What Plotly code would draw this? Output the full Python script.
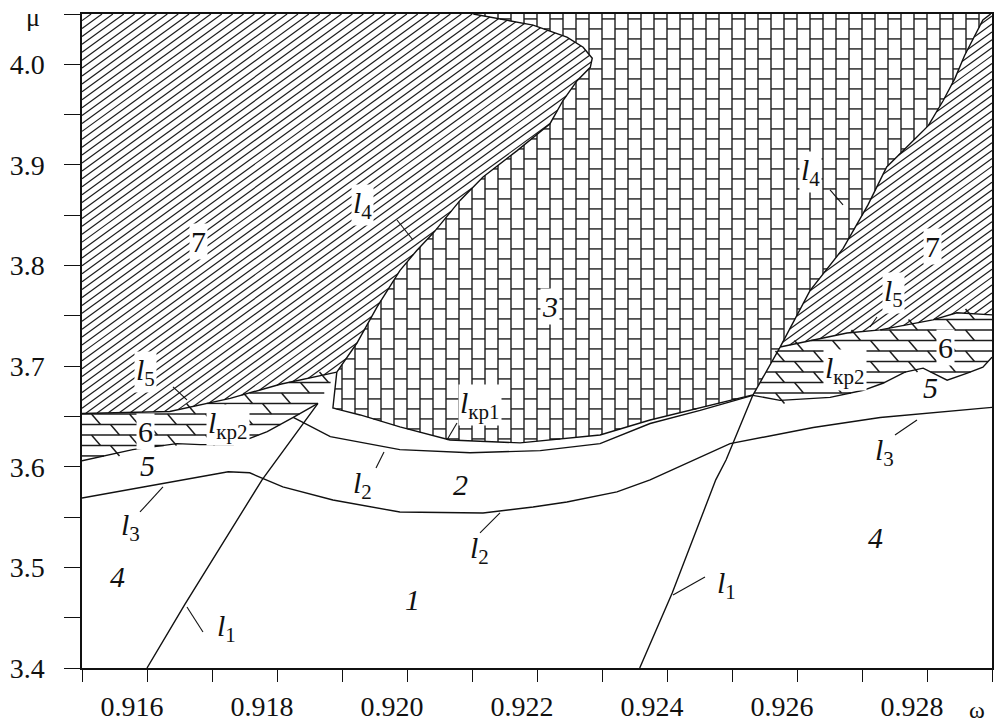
import numpy as np
import plotly.graph_objects as go

# ---------------- data (ω, μ) ----------------
L4_LEFT_W = [0.91892, 0.91923, 0.91954, 0.91989, 0.92015, 0.92040, 0.92082, 0.92117, 0.92169,
             0.92220, 0.92240, 0.92262, 0.92282, 0.92285, 0.92271, 0.92246, 0.92194, 0.92102]
L4_LEFT_MU = [3.694, 3.723, 3.759, 3.795, 3.815, 3.832, 3.865, 3.888, 3.914,
              3.941, 3.964, 3.984, 3.997, 4.006, 4.017, 4.027, 4.039, 4.050]

L4_RIGHT_W = [0.92532, 0.92574, 0.92620, 0.92671, 0.92709, 0.92738, 0.92774, 0.92802, 0.92825,
              0.92843, 0.92858, 0.92874, 0.92886, 0.92898]
L4_RIGHT_MU = [3.671, 3.719, 3.775, 3.817, 3.860, 3.898, 3.921, 3.939, 3.964,
               3.986, 4.009, 4.029, 4.044, 4.050]

L5_LEFT_W = [0.91500, 0.91635, 0.91728, 0.91805, 0.91892]
L5_LEFT_MU = [3.653, 3.655, 3.668, 3.682, 3.694]

BAND_LEFT_BOTTOM_W = [0.91500, 0.91578, 0.91646, 0.91682, 0.91733, 0.91785, 0.91825, 0.91863]
BAND_LEFT_BOTTOM_MU = [3.606, 3.617, 3.623, 3.622, 3.622, 3.635, 3.649, 3.663]

L5_RIGHT_W = [0.92574, 0.92625, 0.92677, 0.92728, 0.92754, 0.92809, 0.92846, 0.92900]
L5_RIGHT_MU = [3.719, 3.726, 3.733, 3.736, 3.739, 3.746, 3.753, 3.751]

BAND_RIGHT_BOTTOM_W = [0.92532, 0.92574, 0.92651, 0.92702, 0.92732, 0.92766, 0.92794, 0.92831,
                       0.92862, 0.92886, 0.92900]
BAND_RIGHT_BOTTOM_MU = [3.671, 3.666, 3.669, 3.676, 3.683, 3.694, 3.698, 3.686,
                        3.693, 3.699, 3.709]

LKP1_W = [0.91892, 0.91886, 0.91897, 0.91928, 0.91989, 0.92066, 0.92174, 0.92297, 0.92374,
          0.92451, 0.92532]
LKP1_MU = [3.694, 3.6585, 3.6565, 3.6515, 3.6396, 3.6266, 3.6237, 3.6316, 3.6465,
           3.6584, 3.6714]

L2_UPPER_W = [0.91825, 0.91882, 0.91989, 0.92097, 0.92205, 0.92297, 0.92374, 0.92451, 0.92532]
L2_UPPER_MU = [3.649, 3.630, 3.617, 3.614, 3.616, 3.623, 3.643, 3.656, 3.671]

L3_W = [0.91500, 0.91605, 0.91725, 0.91758, 0.91809, 0.91886, 0.91989, 0.92117, 0.92194,
        0.92246, 0.92323, 0.92374, 0.92497, 0.92625, 0.92728, 0.92900]
L3_MU = [3.569, 3.581, 3.595, 3.594, 3.580, 3.567, 3.555, 3.554, 3.560,
         3.565, 3.575, 3.587, 3.623, 3.639, 3.649, 3.659]

L1_LEFT_W = [0.91600, 0.91658, 0.91777, 0.91835, 0.91863]
L1_LEFT_MU = [3.400, 3.463, 3.587, 3.639, 3.663]

L1_RIGHT_W = [0.92358, 0.92408, 0.92475, 0.92491, 0.92532]
L1_RIGHT_MU = [3.400, 3.4745, 3.587, 3.607, 3.671]

X_RANGE = [0.915, 0.929]
Y_RANGE = [3.4, 4.05]
X_TICKS = [0.916, 0.918, 0.920, 0.922, 0.924, 0.926, 0.928]
X_TICK_TEXT = ["0.916", "0.918", "0.920", "0.922", "0.924", "0.926", "0.928"]
Y_TICKS = [3.4, 3.5, 3.6, 3.7, 3.8, 3.9, 4.0]
Y_TICK_TEXT = ["3.4", "3.5", "3.6", "3.7", "3.8", "3.9", "4.0"]

# labels: text, ω, μ, white knockout
LABELS = [
    ("7", 0.916785, 3.8235, True),
    ("<i>l</i><sub>4</sub>", 0.91932, 3.8602, True),
    ("<i>l</i><sub>4</sub>", 0.92620, 3.8930, True),
    ("7", 0.92808, 3.8185, True),
    ("<i>l</i><sub>5</sub>", 0.92748, 3.7728, True),
    ("6", 0.92828, 3.7190, True),
    ("<i>l</i><sub>кр2</sub>", 0.92674, 3.6962, True),
    ("<i>5</i>", 0.92805, 3.6783, False),
    ("<i>l</i><sub>3</sub>", 0.92735, 3.6147, False),
    ("<i>3</i>", 0.92220, 3.7588, True),
    ("<i>l</i><sub>кр1</sub>", 0.92112, 3.6614, True),
    ("<i>l</i><sub>2</sub>", 0.91931, 3.5819, False),
    ("<i>2</i>", 0.92082, 3.5819, False),
    ("<i>l</i><sub>2</sub>", 0.92112, 3.5173, False),
    ("<i>1</i>", 0.92008, 3.4676, False),
    ("<i>4</i>", 0.91555, 3.4905, False),
    ("<i>l</i><sub>3</sub>", 0.91574, 3.5402, False),
    ("<i>l</i><sub>1</sub>", 0.91722, 3.4398, False),
    ("<i>l</i><sub>1</sub>", 0.92492, 3.4825, False),
    ("<i>4</i>", 0.92720, 3.5302, False),
    ("<i>l</i><sub>5</sub>", 0.91597, 3.6942, True),
    ("6", 0.91597, 3.6346, True),
    ("<i>l</i><sub>кр2</sub>", 0.91725, 3.6416, True),
    ("<i>5</i>", 0.91600, 3.6008, False),
]

# pointer ticks: tip ω, tip μ, start offset in px (dx, dy; dy down positive)
POINTERS = [
    (0.920092, 3.8254, -16, -20),
    (0.926708, 3.8602, -13, -15),
    (0.927123, 3.7389, 7, -10),
    (0.920615, 3.6266, 10, -17),
    (0.919646, 3.6147, -8, 16),
    (0.921431, 3.5541, -20, 20),
    (0.916246, 3.5799, -23, 25),
    (0.916615, 3.4606, 16, 25),
    (0.924092, 3.4726, 32, -18),
    (0.927846, 3.6465, -22, 15),
    (0.916615, 3.6664, -14, -13),
]

# ---------------- geometry helpers ----------------
FIG_W, FIG_H = 1002, 726
M_L, M_R, M_T, M_B = 82, 10, 14, 58
SU = (FIG_W - M_L - M_R) / (X_RANGE[1] - X_RANGE[0])   # px per ω unit
SV = (FIG_H - M_T - M_B) / (Y_RANGE[1] - Y_RANGE[0])   # px per μ unit


def scan(a, b, c):
    a = np.asarray(a, float); b = np.asarray(b, float)
    a2 = np.roll(a, -1); b2 = np.roll(b, -1)
    m = ((a <= c) & (a2 > c)) | ((a2 <= c) & (a > c))
    if not m.any():
        return []
    t = (c - a[m]) / (a2[m] - a[m])
    hits = np.sort(b[m] + t * (b2[m] - b[m]))
    return list(zip(hits[0::2], hits[1::2]))


def hatch(pw, pmu, angle, spacing):
    u = np.asarray(pw) * SU; v = np.asarray(pmu) * SV
    th = np.radians(angle); c, s = np.cos(th), np.sin(th)
    n = -u * s + v * c; t = u * c + v * s
    X, Y = [], []
    for k in range(int(np.floor(n.min() / spacing)), int(np.ceil(n.max() / spacing)) + 1):
        nn = k * spacing
        for t0, t1 in scan(n, t, nn):
            for tt in (t0, t1):
                X.append((tt * c - nn * s) / SU); Y.append((tt * s + nn * c) / SV)
            X.append(None); Y.append(None)
    return X, Y


def bricks(pw, pmu, W, H):
    u = np.asarray(pw) * SU; v = np.asarray(pmu) * SV
    X, Y = [], []
    for k in range(int(np.floor(u.min() / W)), int(np.ceil(u.max() / W)) + 1):
        uk = k * W
        for v0, v1 in scan(u, v, uk):
            X += [uk / SU, uk / SU, None]; Y += [v0 / SV, v1 / SV, None]
        off = (k % 2) * H / 2
        for j in range(int(np.floor((v.min() - off) / H)), int(np.ceil((v.max() - off) / H)) + 1):
            vj = j * H + off
            for a0, a1 in scan(v, u, vj):
                lo, hi = max(a0, uk), min(a1, uk + W)
                if hi > lo:
                    X += [lo / SU, hi / SU, None]; Y += [vj / SV, vj / SV, None]
    return X, Y


def courses(pw, pmu, h, L, slant):
    u = np.asarray(pw) * SU; v = np.asarray(pmu) * SV
    X, Y = [], []
    for j in range(int(np.floor(v.min() / h)), int(np.ceil(v.max() / h)) + 1):
        vj = j * h
        for a0, a1 in scan(v, u, vj):
            X += [a0 / SU, a1 / SU, None]; Y += [vj / SV, vj / SV, None]
        off = (j % 2) * L / 2
        ints = scan(v, u, vj + h / 2)
        for m in range(int(np.floor((u.min() - off) / L)), int(np.ceil((u.max() - off) / L)) + 1):
            um = m * L + off
            if any(a0 < um - slant / 2 and um + slant / 2 < a1 for a0, a1 in ints):
                X += [(um - slant / 2) / SU, (um + slant / 2) / SU, None]
                Y += [(vj + h) / SV, vj / SV, None]
    return X, Y


# ---------------- region polygons ----------------
top = Y_RANGE[1]
r7l_w = [X_RANGE[0]] + L4_LEFT_W[::-1] + L5_LEFT_W[::-1]
r7l_mu = [top] + L4_LEFT_MU[::-1] + L5_LEFT_MU[::-1]

r7r_w = L4_RIGHT_W[1:] + [X_RANGE[1], X_RANGE[1]] + L5_RIGHT_W[::-1]
r7r_mu = L4_RIGHT_MU[1:] + [top, L5_RIGHT_MU[-1]] + L5_RIGHT_MU[::-1]

r3_w = LKP1_W[1:] + L4_RIGHT_W[1:] + [X_RANGE[1]] + L4_LEFT_W[::-1]
r3_mu = LKP1_MU[1:] + L4_RIGHT_MU[1:] + [top] + L4_LEFT_MU[::-1]

r6l_w = L5_LEFT_W + BAND_LEFT_BOTTOM_W[::-1]
r6l_mu = L5_LEFT_MU + BAND_LEFT_BOTTOM_MU[::-1]

r6r_w = L4_RIGHT_W[:2] + L5_RIGHT_W[1:] + BAND_RIGHT_BOTTOM_W[::-1]
r6r_mu = L4_RIGHT_MU[:2] + L5_RIGHT_MU[1:] + BAND_RIGHT_BOTTOM_MU[::-1]

fig = go.Figure()
PAT = "#1c1c1c"
INK = "#111111"

for pw, pmu in [(r7l_w, r7l_mu), (r7r_w, r7r_mu)]:
    hx, hy = hatch(pw, pmu, 36, 6.4)
    fig.add_trace(go.Scatter(x=hx, y=hy, mode="lines", line=dict(color=PAT, width=1.2),
                             hoverinfo="skip", showlegend=False))

bx, by = bricks(r3_w, r3_mu, 13.0, 20.0)
fig.add_trace(go.Scatter(x=bx, y=by, mode="lines", line=dict(color=PAT, width=1.4),
                         hoverinfo="skip", showlegend=False))

for pw, pmu in [(r6l_w, r6l_mu), (r6r_w, r6r_mu)]:
    cx, cy = courses(pw, pmu, 10.5, 38.0, 9.0)
    fig.add_trace(go.Scatter(x=cx, y=cy, mode="lines", line=dict(color=PAT, width=1.5),
                             hoverinfo="skip", showlegend=False))

for w, mu in [(L4_LEFT_W, L4_LEFT_MU), (L4_RIGHT_W, L4_RIGHT_MU), (L5_LEFT_W, L5_LEFT_MU),
              (BAND_LEFT_BOTTOM_W, BAND_LEFT_BOTTOM_MU), (L5_RIGHT_W, L5_RIGHT_MU),
              (BAND_RIGHT_BOTTOM_W, BAND_RIGHT_BOTTOM_MU), (LKP1_W, LKP1_MU),
              (L2_UPPER_W, L2_UPPER_MU), (L3_W, L3_MU), (L1_LEFT_W, L1_LEFT_MU),
              (L1_RIGHT_W, L1_RIGHT_MU)]:
    fig.add_trace(go.Scatter(x=w, y=mu, mode="lines", line=dict(color=INK, width=1.4),
                             hoverinfo="skip", showlegend=False))

px_, py_ = [], []
for tw, tmu, dx, dy in POINTERS:
    px_ += [tw + dx / SU, tw, None]
    py_ += [tmu - dy / SV, tmu, None]
fig.add_trace(go.Scatter(x=px_, y=py_, mode="lines", line=dict(color=INK, width=1.1),
                         hoverinfo="skip", showlegend=False))

FONT = "Liberation Serif, Times New Roman, Times, serif"
for text, w, mu, ko in LABELS:
    fig.add_annotation(x=w, y=mu, text=text, showarrow=False, xanchor="center", yanchor="middle",
                       font=dict(family=FONT, size=30, color=INK),
                       bgcolor="white" if ko else "rgba(0,0,0,0)", borderpad=1)

fig.add_annotation(xref="paper", yref="paper", x=-0.054, y=0.995, text="μ", showarrow=False,
                   xanchor="center", yanchor="middle",
                   font=dict(family=FONT, size=26, color=INK))
fig.add_annotation(xref="paper", yref="paper", x=0.9835, y=-0.064, text="ω", showarrow=False,
                   xanchor="center", yanchor="middle",
                   font=dict(family=FONT, size=24, color=INK))

fig.update_layout(
    width=FIG_W, height=FIG_H,
    margin=dict(l=M_L, r=M_R, t=M_T, b=M_B, autoexpand=False),
    paper_bgcolor="white", plot_bgcolor="white",
    font=dict(family=FONT, size=26, color=INK),
    showlegend=False,
    xaxis=dict(range=X_RANGE, showgrid=False, zeroline=False, showline=True, mirror=True,
               automargin=False,
               linecolor=INK, linewidth=1.5, ticks="outside", ticklen=12, tickwidth=1.3,
               tickcolor=INK, tickvals=X_TICKS, ticktext=X_TICK_TEXT,
               tickfont=dict(family=FONT, size=28, color=INK), ticklabelshift=-15,
               ticklabelstandoff=1,
               minor=dict(tick0=0.915, dtick=0.001, ticks="outside", ticklen=12,
                          tickwidth=1.3, tickcolor=INK, showgrid=False)),
    yaxis=dict(range=Y_RANGE, showgrid=False, zeroline=False, showline=True, mirror=True,
               automargin=False,
               linecolor=INK, linewidth=1.5, ticks="outside", ticklen=16, tickwidth=1.3,
               tickcolor=INK, tickvals=Y_TICKS, ticktext=Y_TICK_TEXT,
               tickfont=dict(family=FONT, size=28, color=INK), ticklabelstandoff=14,
               minor=dict(tick0=3.4, dtick=0.05, ticks="outside", ticklen=16,
                          tickwidth=1.3, tickcolor=INK, showgrid=False)),
)

fig.write_html("out.html", config={"displayModeBar": False},
               post_script="document.body.style.margin='0';")
